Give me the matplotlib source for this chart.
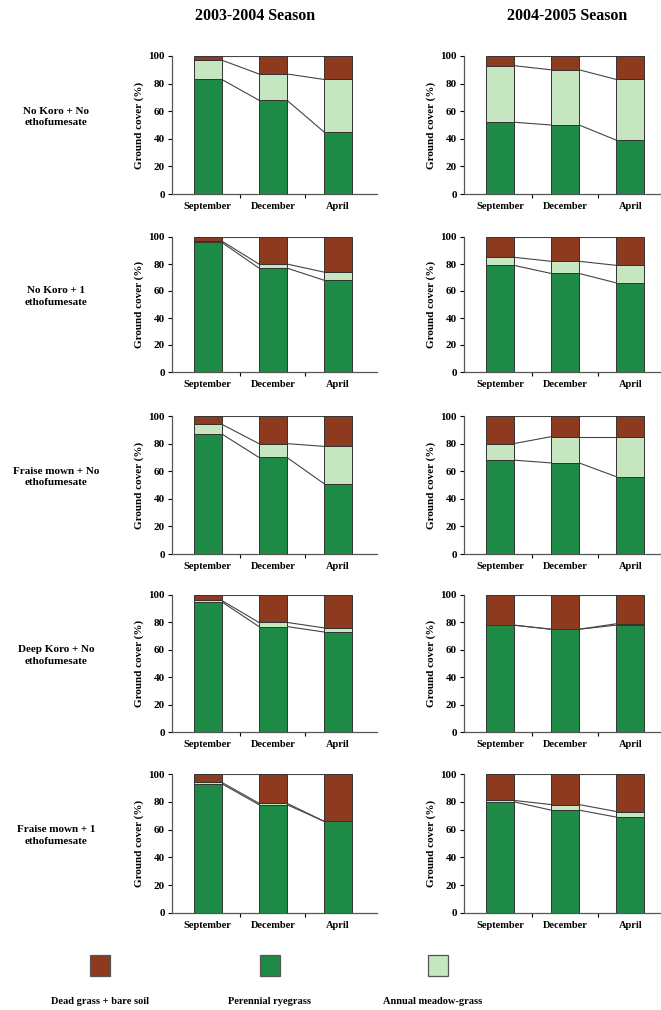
import matplotlib
matplotlib.use("Agg")
import matplotlib.pyplot as plt
from matplotlib.patches import Rectangle

plt.rcParams['font.family'] = ['Liberation Serif', 'DejaVu Serif']
plt.rcParams['font.weight'] = 'bold'

months = ["September", "December", "April"]
seasons = ["2003-2004 Season", "2004-2005 Season"]
treatments = ["No Koro + No\nethofumesate", "No Koro + 1\nethofumesate",
              "Fraise mown + No\nethofumesate", "Deep Koro + No\nethofumesate",
              "Fraise mown + 1\nethofumesate"]

# perennial ryegrass (%) per treatment, [season 2003-04, season 2004-05]
perennial = [
    [[83, 68, 45], [52, 50, 39]],
    [[96, 77, 68], [79, 73, 66]],
    [[87, 70, 51], [68, 66, 56]],
    [[95, 77, 73], [78, 75, 78]],
    [[93, 78, 66], [80, 74, 69]],
]
# annual meadow-grass (%)
annual = [
    [[14, 19, 38], [41, 40, 44]],
    [[1, 3, 6], [6, 9, 13]],
    [[7, 10, 27], [12, 19, 29]],
    [[1, 3, 3], [0, 0, 1]],
    [[1, 1, 0], [1, 4, 4]],
]

legend_labels = ["Dead grass + bare soil", "Perennial ryegrass", "Annual meadow-grass"]
c_dead = "#8e3a1f"
c_per = "#1d8a46"
c_ann = "#c6e5c1"

W, H = 661, 1010
fig = plt.figure(figsize=(W / 100, H / 100), dpi=100)

def px_axes(x0, y_top, x1, y_bot):
    return fig.add_axes([x0 / W, 1 - y_bot / H, (x1 - x0) / W, (y_bot - y_top) / H])

col_x = [(172, 377, 2.6), (464, 661, 2.47)]
row_y = [(56, 194), (237, 372), (416, 554), (595, 732), (774, 913)]
bw = 0.43

for r in range(5):
    for c in range(2):
        x0, x1, xmax = col_x[c]
        yt, yb = row_y[r]
        ax = px_axes(x0, yt, x1, yb)
        p = perennial[r][c]
        a = annual[r][c]
        dead = [100 - p[i] - a[i] for i in range(3)]
        xs = range(3)
        ax.bar(xs, p, bw, color=c_per, edgecolor="#333333", lw=0.7, zorder=3)
        ax.bar(xs, a, bw, bottom=p, color=c_ann, edgecolor="#333333", lw=0.7, zorder=3)
        ax.bar(xs, dead, bw, bottom=[p[i] + a[i] for i in range(3)], color=c_dead,
               edgecolor="#333333", lw=0.7, zorder=3)
        # series lines
        levels = [p, [p[i] + a[i] for i in range(3)], [100, 100, 100]]
        for lev in levels:
            for i in range(2):
                ax.plot([i + bw / 2, i + 1 - bw / 2], [lev[i], lev[i + 1]],
                        color="#444444", lw=0.8, zorder=2)
        ax.set_xlim(-0.55, xmax)
        ax.set_ylim(0, 100)
        ax.set_yticks(range(0, 101, 20))
        ax.set_xticks([0.5, 1.5], minor=False)
        ax.set_xticklabels([])
        ax.tick_params(axis='x', length=3, width=0.8, direction='out')
        ax.tick_params(axis='y', length=3, width=0.8, labelsize=8, pad=2)
        for i, m in enumerate(months):
            ax.text(i, -6, m, ha='center', va='top', fontsize=7.5, fontweight='bold',
                    transform=ax.transData)
        for s in ['top', 'right']:
            ax.spines[s].set_visible(False)
        for s in ['left', 'bottom']:
            ax.spines[s].set_color("#555555")
            ax.spines[s].set_linewidth(0.9)
        ax.set_ylabel("Ground cover (%)", fontsize=8, fontweight='bold', labelpad=3)
        ax.patch.set_alpha(0)
        if c == 0:
            fig.text(56 / W, 1 - ((yt + yb) / 2 - 8) / H, treatments[r], ha='center',
                     va='center', fontsize=8, fontweight='bold', linespacing=1.3)

fig.text(255 / W, 1 - 16 / H, seasons[0], ha='center', va='center', fontsize=11.5, fontweight='bold')
fig.text(567 / W, 1 - 16 / H, seasons[1], ha='center', va='center', fontsize=11.5, fontweight='bold')

# legend
lax = fig.add_axes([0, 0, 1, 1])
lax.set_xlim(0, W)
lax.set_ylim(H, 0)
lax.axis('off')
for cx, col, lab, tx in zip([100, 270, 438], [c_dead, c_per, c_ann], legend_labels, [100, 270, 433]):
    lax.add_patch(Rectangle((cx - 10, 955), 20, 21, facecolor=col, edgecolor="#555555", lw=0.9))
    lax.text(tx, 1001, lab, ha='center', va='center', fontsize=7.5, fontweight='bold')

fig.savefig("out.png", dpi=100)
